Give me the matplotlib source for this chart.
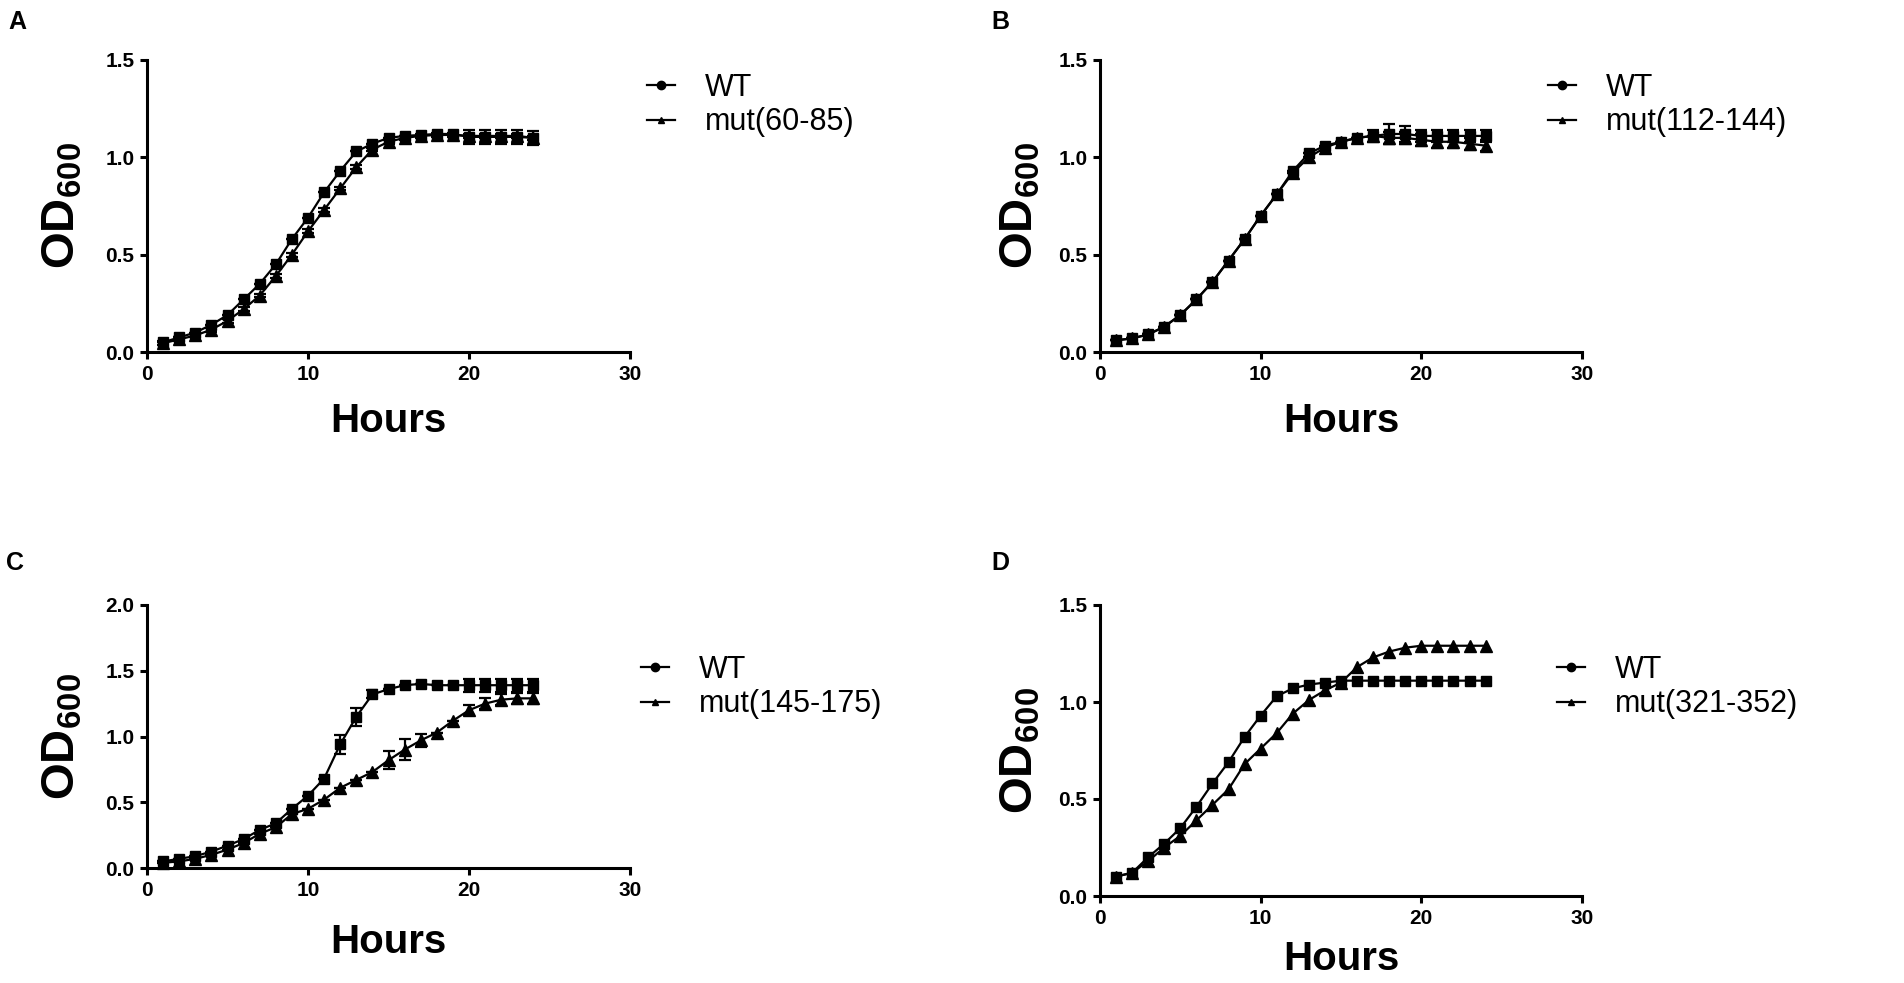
import numpy as np
import matplotlib
matplotlib.use("Agg")
import matplotlib.pyplot as plt
from matplotlib.lines import Line2D

plt.rcParams['font.family'] = ['Liberation Sans', 'DejaVu Sans']
plt.rcParams['mathtext.fontset'] = 'custom'
plt.rcParams['mathtext.rm'] = 'Liberation Sans'
plt.rcParams['mathtext.bf'] = 'Liberation Sans:bold'

# Data (OD600, hourly 1..24 h)
hours = np.arange(1, 25)

a_wt = [0.05, 0.075, 0.10, 0.14, 0.19, 0.27, 0.35, 0.45, 0.58, 0.69, 0.82, 0.93,
        1.03, 1.07, 1.10, 1.11, 1.115, 1.12, 1.12, 1.105, 1.105, 1.105, 1.105, 1.10]
a_wt_err = [0]*19 + [0.035, 0.035, 0.035, 0.035, 0.035]
a_mut = [0.045, 0.065, 0.085, 0.115, 0.16, 0.22, 0.29, 0.39, 0.50, 0.62, 0.73, 0.84,
         0.95, 1.04, 1.08, 1.10, 1.11, 1.115, 1.115, 1.11, 1.11, 1.11, 1.11, 1.10]
a_mut_err = [0.01]*24

b_wt = [0.06, 0.07, 0.09, 0.13, 0.19, 0.27, 0.36, 0.47, 0.58, 0.70, 0.81, 0.93,
        1.02, 1.06, 1.08, 1.10, 1.11, 1.12, 1.12, 1.11, 1.11, 1.11, 1.11, 1.11]
b_wt_err = [0]*16 + [0.03, 0.05, 0.04, 0.03, 0.03, 0.03, 0.03, 0.03]
b_mut = [0.06, 0.07, 0.09, 0.13, 0.19, 0.27, 0.36, 0.47, 0.58, 0.70, 0.81, 0.92,
         1.00, 1.05, 1.08, 1.10, 1.11, 1.10, 1.10, 1.09, 1.08, 1.08, 1.07, 1.06]
b_mut_err = [0]*17 + [0.03, 0.03, 0.03, 0.03, 0.03, 0.03, 0.03]

c_wt = [0.05, 0.07, 0.09, 0.125, 0.17, 0.22, 0.29, 0.34, 0.45, 0.55, 0.68, 0.94,
        1.15, 1.32, 1.36, 1.39, 1.40, 1.39, 1.39, 1.39, 1.39, 1.39, 1.39, 1.39]
c_wt_err = [0]*11 + [0.07, 0.07, 0.03] + [0]*5 + [0.05, 0.05, 0.05, 0.05, 0.05]
c_mut = [0.04, 0.05, 0.07, 0.10, 0.14, 0.19, 0.26, 0.31, 0.41, 0.45, 0.52, 0.61,
         0.67, 0.73, 0.82, 0.90, 0.97, 1.03, 1.12, 1.20, 1.25, 1.28, 1.29, 1.29]
c_mut_err = [0]*14 + [0.07, 0.08, 0.05] + [0]*2 + [0.04, 0.04, 0.04, 0.04, 0.04]

d_wt = [0.10, 0.12, 0.20, 0.27, 0.35, 0.46, 0.58, 0.69, 0.82, 0.93, 1.03, 1.07,
        1.09, 1.10, 1.11, 1.11, 1.11, 1.11, 1.11, 1.11, 1.11, 1.11, 1.11, 1.11]
d_mut = [0.10, 0.12, 0.18, 0.25, 0.31, 0.39, 0.47, 0.55, 0.68, 0.76, 0.84, 0.94,
         1.01, 1.06, 1.10, 1.18, 1.23, 1.26, 1.28, 1.29, 1.29, 1.29, 1.29, 1.29]

panels = ['A', 'B', 'C', 'D']
mut_names = ['mut(60-85)', 'mut(112-144)', 'mut(145-175)', 'mut(321-352)']
y_max = [1.5, 1.5, 2.0, 1.5]
y_ticks = [[0, 0.5, 1.0, 1.5], [0, 0.5, 1.0, 1.5],
           [0, 0.5, 1.0, 1.5, 2.0], [0, 0.5, 1.0, 1.5]]
x_ticks = [0, 10, 20, 30]

series = [(a_wt, a_wt_err, a_mut, a_mut_err),
          (b_wt, b_wt_err, b_mut, b_mut_err),
          (c_wt, c_wt_err, c_mut, c_mut_err),
          (d_wt, None, d_mut, None)]

W, H = 1904, 983
fig = plt.figure(figsize=(W / 100, H / 100), dpi=100)

# pixel boxes: left, right, top, bottom of each plot area
boxes = [(147, 630, 60, 352), (1100, 1582, 60, 352),
         (147, 630, 605, 868), (1100, 1582, 605, 896)]
xlabel_gap = [69, 69, 74, 63]
ylabel_gap = [84, 80, 84, 80]
legend_pos = [(647, 105), (1548, 105), (641, 687), (1557, 687)]
label_pos = [(8, 22), (991, 22), (6, 563), (991, 563)]

for i in range(4):
    l, r, t, b = boxes[i]
    ax = fig.add_axes([l / W, 1 - b / H, (r - l) / W, (b - t) / H])
    wt, wt_err, mut, mut_err = series[i]

    ax.errorbar(hours, wt, yerr=wt_err, color='black', marker='s', markersize=7,
                lw=1.6, capsize=4, elinewidth=1.6, capthick=1.6, clip_on=False)
    ax.errorbar(hours, mut, yerr=mut_err, color='black', marker='^', markersize=8,
                lw=1.6, capsize=4, elinewidth=1.6, capthick=1.6, clip_on=False)

    ax.set_xlim(0, 30)
    ax.set_ylim(0, y_max[i])
    ax.set_xticks(x_ticks)
    ax.set_yticks(y_ticks[i])
    ax.set_yticklabels(['%.1f' % v for v in y_ticks[i]])
    for s in ['top', 'right']:
        ax.spines[s].set_visible(False)
    for s in ['left', 'bottom']:
        ax.spines[s].set_linewidth(2.2)
    ax.tick_params(direction='out', length=5, width=2.2, labelsize=15, pad=4)
    for lab in ax.get_xticklabels() + ax.get_yticklabels():
        lab.set_fontweight('bold')

    ax.set_xlabel('Hours', fontsize=29, fontweight='bold')
    ax.xaxis.set_label_coords(0.5, -xlabel_gap[i] / (b - t))
    ax.xaxis.label.set_va('center')
    ax.set_ylabel(r'OD$_{\mathbf{600}}$', fontsize=34, fontweight='bold')
    ax.yaxis.set_label_coords(-ylabel_gap[i] / (r - l), 0.5)
    ax.yaxis.label.set_va('center')

    handles = [Line2D([], [], color='black', lw=1.6, marker='o', markersize=6),
               Line2D([], [], color='black', lw=1.6, marker='^', markersize=5)]
    lx, ly = legend_pos[i]
    fig.legend(handles, ['WT', mut_names[i]], loc='center left',
               bbox_to_anchor=(lx / W, 1 - ly / H), frameon=False, fontsize=22,
               handlelength=0.9, handletextpad=1.0, labelspacing=0.15,
               borderpad=0, borderaxespad=0)

    px, py = label_pos[i]
    fig.text(px / W, 1 - py / H, panels[i], fontsize=18, fontweight='bold',
             va='center', ha='left')

fig.savefig('out.png', dpi=100)
